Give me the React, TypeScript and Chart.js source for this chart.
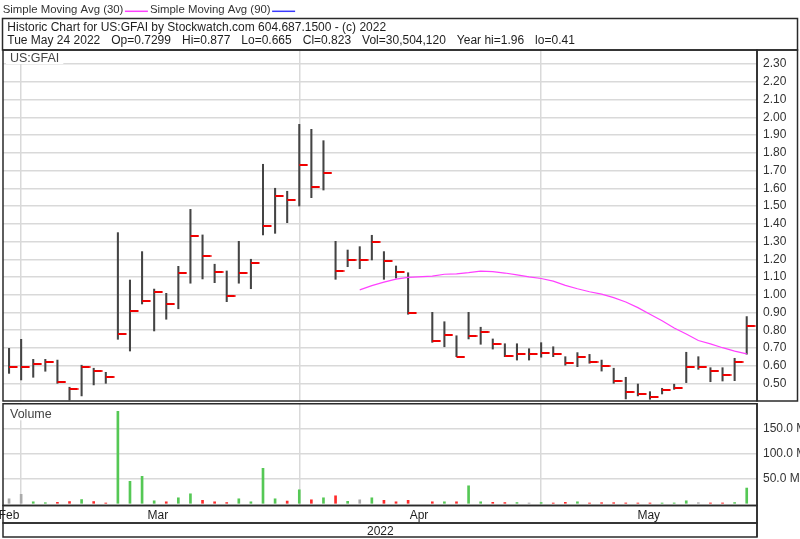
import React, { useEffect, useRef } from "react";
import { Chart, registerables } from "chart.js";

Chart.register(...registerables);

// ---------- data (one entry per weekday, Feb 28 .. May 24 2022; null = market holiday) ----------
const dates = [
  "Feb 28",
  "Mar 1", "Mar 2", "Mar 3", "Mar 4", "Mar 7", "Mar 8", "Mar 9", "Mar 10", "Mar 11",
  "Mar 14", "Mar 15", "Mar 16", "Mar 17", "Mar 18", "Mar 21", "Mar 22", "Mar 23", "Mar 24", "Mar 25",
  "Mar 28", "Mar 29", "Mar 30", "Mar 31",
  "Apr 1", "Apr 4", "Apr 5", "Apr 6", "Apr 7", "Apr 8", "Apr 11", "Apr 12", "Apr 13", "Apr 14", "Apr 15",
  "Apr 18", "Apr 19", "Apr 20", "Apr 21", "Apr 22", "Apr 25", "Apr 26", "Apr 27", "Apr 28", "Apr 29",
  "May 2", "May 3", "May 4", "May 5", "May 6", "May 9", "May 10", "May 11", "May 12", "May 13",
  "May 16", "May 17", "May 18", "May 19", "May 20", "May 23", "May 24",
];

const highs = [
  0.698, 0.749, 0.636, 0.636, 0.632, 0.479, 0.603, 0.586, 0.563, 1.35,
  1.083, 1.243, 1.032, 1.008, 1.16, 1.481, 1.337, 1.172, 1.134, 1.301,
  1.2, 1.735, 1.6, 1.583, 1.96, 1.932, 1.868, 1.301, 1.252, 1.271,
  1.335, 1.243, 1.162, 1.124, null, 0.901, 0.848, 0.769, 0.901, 0.817,
  0.751, 0.724, 0.724, 0.696, 0.73, 0.707, 0.651, 0.674, 0.664, 0.632,
  0.586, 0.535, 0.497, 0.454, 0.473, 0.496, 0.676, 0.651, 0.589, 0.589,
  0.642, 0.877,
];

const lows = [
  0.557, 0.52, 0.535, 0.569, 0.501, 0.407, 0.43, 0.492, 0.501, 0.749,
  0.683, 0.948, 0.796, 0.862, 0.921, 1.065, 1.089, 1.068, 0.961, 1.065,
  1.034, 1.337, 1.346, 1.406, 1.5, 1.547, 1.59, 1.087, 1.158, 1.147,
  1.196, 1.087, 1.094, 0.89, null, 0.732, 0.707, 0.651, 0.751, 0.721,
  0.694, 0.651, 0.632, 0.632, 0.648, 0.651, 0.603, 0.595, 0.614, 0.57,
  0.501, 0.413, 0.43, 0.411, 0.441, 0.467, 0.505, 0.58, 0.51, 0.514,
  0.516, 0.665,
];

const closes = [
  0.591, 0.591, 0.608, 0.623, 0.508, 0.467, 0.591, 0.57, 0.537, 0.779,
  0.908, 0.963, 1.017, 0.946, 1.121, 1.331, 1.218, 1.13, 0.995, 1.121,
  1.179, 1.389, 1.556, 1.536, 1.729, 1.605, 1.688, 1.136, 1.196, 1.196,
  1.297, 1.19, 1.13, 0.899, null, 0.741, 0.775, 0.651, 0.768, 0.79,
  0.721, 0.657, 0.666, 0.666, 0.672, 0.666, 0.617, 0.648, 0.623, 0.6,
  0.516, 0.452, 0.439, 0.426, 0.463, 0.476, 0.595, 0.595, 0.57, 0.546,
  0.623, 0.823,
];

// volume, millions of shares
const volumes = [
  9, 18, 3, 1.2, 2, 3.5, 7.5, 3.5, 0.6, 184,
  44, 54, 5, 3, 11, 19, 6, 3, 1.5, 9,
  3, 70, 9, 4.5, 27, 7, 11, 15, 4, 7,
  11, 6, 3, 6, null, 3, 3, 3, 35, 3,
  2, 1.5, 1.5, 0.6, 1.5, 0.6, 2, 3, 0.6, 1.2,
  1.2, 0.7, 0.6, 0.6, 0.6, 0.7, 5, 1.2, 0.7, 0.7,
  1.5, 30.5,
];

const priceTicks = [0.5, 0.6, 0.7, 0.8, 0.9, 1.0, 1.1, 1.2, 1.3, 1.4, 1.5, 1.6, 1.7, 1.8, 1.9, 2.0, 2.1, 2.2, 2.3];
const volumeTicks = [50, 100, 150];
const gridBars = [1, 24, 44];
const monthLabels = ["Feb", "Mar", "Apr", "May"];
const monthLabelPos = [0, 12.3, 33.9, 52.9];
const yearLabel = "2022";
const yearLabelPos = 30.7;
const maPeriod = 30;
const legendLabels = ["Simple Moving Avg (30)", "Simple Moving Avg (90)"];
const legendColors = ["#ff40ff", "#3a3aff"];
const symbol = "US:GFAI";
const volumeTitle = "Volume";
const headerLine1 = "Historic Chart for US:GFAI by Stockwatch.com 604.687.1500 - (c) 2022";
const headerFields = [
  "Tue May 24 2022", "Op=0.7299", "Hi=0.877", "Lo=0.665", "Cl=0.823",
  "Vol=30,504,120", "Year hi=1.96", "lo=0.41",
];

// ---------- styling ----------
const FONT = 'Arial, "Liberation Sans", sans-serif';
const FRAME = "#2a2a2a";
const GRID = "#d9d9d9";
const X_MIN = -0.5;
const X_MAX = 61.85;
const FIELD_GAP = 11;

function movingAverage(values: (number | null)[], n: number) {
  const out: { x: number; y: number }[] = [];
  const buf: number[] = [];
  values.forEach((v, i) => {
    if (v == null) return;
    buf.push(v);
    if (buf.length > n) buf.shift();
    if (buf.length === n) out.push({ x: i, y: buf.reduce((a, b) => a + b, 0) / n });
  });
  return out;
}

function makeCloseTick() {
  const c = document.createElement("canvas");
  c.width = 18;
  c.height = 2;
  const g = c.getContext("2d")!;
  g.fillStyle = "#f00000";
  g.fillRect(9, 0, 8.5, 2);
  return c;
}

function panelLabel(ctx: CanvasRenderingContext2D, text: string, x: number, baseline: number, boxTop: number) {
  ctx.font = `12.5px ${FONT}`;
  const w = ctx.measureText(text).width;
  ctx.fillStyle = "#fff";
  ctx.fillRect(x - 4, boxTop, w + 8, baseline + 2 - boxTop);
  ctx.fillStyle = "#444";
  ctx.fillText(text, x, baseline);
}

export default function App() {
  const priceRef = useRef<HTMLCanvasElement>(null);
  const volRef = useRef<HTMLCanvasElement>(null);

  useEffect(() => {
    const idx = dates.map((_, i) => i);
    const rangeData = idx
      .filter((i) => highs[i] != null)
      .map((i) => ({ x: i, y: [lows[i] as number, highs[i] as number] }));
    const closeData = idx.filter((i) => closes[i] != null).map((i) => ({ x: i, y: closes[i] as number }));
    const maData = movingAverage(closes, maPeriod);

    const volColor: string[] = [];
    let prev: number | null = null;
    const volData: { x: number; y: number }[] = [];
    idx.forEach((i) => {
      const c = closes[i];
      if (c == null || volumes[i] == null) return;
      let col = "#aaaaaa";
      if (prev != null && c > prev) col = "#55c855";
      else if (prev != null && c < prev) col = "#ff2a2a";
      prev = c;
      volColor.push(col);
      volData.push({ x: i, y: volumes[i] as number });
    });

    const tickImg = makeCloseTick();

    const decorPrice = {
      id: "decorPrice",
      afterDraw(chart: any) {
        const ctx = chart.ctx as CanvasRenderingContext2D;
        ctx.save();
        ctx.textAlign = "left";
        ctx.textBaseline = "alphabetic";
        // legend line
        ctx.font = `11.4px ${FONT}`;
        let x = 2.7;
        legendLabels.forEach((lab, i) => {
          ctx.fillStyle = "#333";
          ctx.fillText(lab, x, 13.3);
          x += ctx.measureText(lab).width + 1.5;
          ctx.strokeStyle = legendColors[i];
          ctx.lineWidth = 1.5;
          ctx.beginPath();
          ctx.moveTo(x, 11.3);
          ctx.lineTo(x + 23, 11.3);
          ctx.stroke();
          x += 25;
        });
        // header box
        ctx.strokeStyle = FRAME;
        ctx.lineWidth = 1.5;
        ctx.strokeRect(2.5, 18.5, 795, 31.5);
        ctx.font = `12px ${FONT}`;
        ctx.fillStyle = "#1e1e1e";
        ctx.fillText(headerLine1, 7.3, 30.7);
        let hx = 7.3;
        headerFields.forEach((f) => {
          ctx.fillText(f, hx, 44.3);
          hx += ctx.measureText(f).width + FIELD_GAP;
        });
        // symbol label
        panelLabel(ctx, symbol, 10, 62, 51);
        // price panel frame + axis column
        const a = chart.chartArea;
        ctx.strokeStyle = FRAME;
        ctx.lineWidth = 1.5;
        ctx.strokeRect(a.left, a.top, a.right - a.left, a.bottom - a.top);
        ctx.strokeRect(a.right, a.top, 797.5 - a.right, a.bottom - a.top);
        ctx.restore();
      },
    };

    const decorVol = {
      id: "decorVol",
      afterDraw(chart: any) {
        const ctx = chart.ctx as CanvasRenderingContext2D;
        const a = chart.chartArea;
        const xs = chart.scales.x;
        ctx.save();
        ctx.textBaseline = "alphabetic";
        ctx.textAlign = "left";
        panelLabel(ctx, volumeTitle, 10, 15.3, 1.5);
        ctx.strokeStyle = FRAME;
        ctx.lineWidth = 1.5;
        ctx.strokeRect(a.left, 0.75, a.right - a.left, a.bottom + 0.5 - 0.75);
        ctx.strokeRect(a.left, a.bottom + 0.5, a.right - a.left, 120 - (a.bottom + 0.5));
        ctx.strokeRect(a.left, 120, a.right - a.left, 14);
        ctx.beginPath();
        ctx.moveTo(a.right, 0);
        ctx.lineTo(a.right, 134);
        ctx.stroke();
        ctx.font = `12px ${FONT}`;
        ctx.fillStyle = "#1e1e1e";
        ctx.textAlign = "center";
        monthLabels.forEach((m, i) => ctx.fillText(m, xs.getPixelForValue(monthLabelPos[i]), 116.3));
        ctx.fillText(yearLabel, xs.getPixelForValue(yearLabelPos), 132);
        ctx.restore();
      },
    };

    const xScale = (h: number) => ({
      type: "linear" as const,
      min: X_MIN,
      max: X_MAX,
      offset: false,
      bounds: "data" as const,
      afterBuildTicks: (s: any) => {
        s.ticks = gridBars.map((v) => ({ value: v }));
      },
      afterFit: (s: any) => {
        s.height = h;
        s.paddingLeft = 0;
        s.paddingRight = 0;
      },
      ticks: { display: false },
      grid: { color: GRID, lineWidth: 1.5, drawTicks: false, offset: false },
      border: { display: false },
    });

    const yFit = (s: any) => {
      s.width = 43;
      s.paddingTop = 0;
      s.paddingBottom = 0;
    };

    const priceChart = new Chart(priceRef.current!, {
      type: "bar",
      data: {
        datasets: [
          {
            type: "bar",
            data: rangeData as any,
            backgroundColor: "#444",
            barThickness: 1.4,
            order: 2,
          },
          {
            type: "line",
            data: closeData,
            showLine: false,
            pointStyle: tickImg as any,
            pointRadius: 4,
            order: 1,
          },
          {
            type: "line",
            data: maData,
            borderColor: legendColors[0],
            borderWidth: 1.2,
            pointRadius: 0,
            tension: 0,
            order: 0,
          },
        ] as any,
      },
      options: {
        animation: false,
        responsive: false,
        maintainAspectRatio: false,
        layout: { autoPadding: false, padding: { left: 3, top: 50, right: 0, bottom: 0 } },
        plugins: { legend: { display: false }, tooltip: { enabled: false } },
        scales: {
          x: xScale(2) as any,
          y: {
            position: "right",
            min: 0.4014,
            max: 2.3789,
            afterBuildTicks: (s: any) => {
              s.ticks = priceTicks.map((v) => ({ value: v }));
            },
            afterFit: yFit,
            ticks: {
              callback: (v: any) => Number(v).toFixed(2),
              font: { family: FONT, size: 12 },
              color: "#333",
              padding: 6,
            },
            grid: { color: GRID, lineWidth: 1.5, drawTicks: false },
            border: { display: false },
          },
        },
      },
      plugins: [decorPrice],
    });

    const volChart = new Chart(volRef.current!, {
      type: "bar",
      data: {
        datasets: [
          {
            data: volData as any,
            backgroundColor: (c: any) => volColor[c.dataIndex] || "#aaa",
            barThickness: 2,
          },
        ],
      },
      options: {
        animation: false,
        responsive: false,
        maintainAspectRatio: false,
        layout: { autoPadding: false, padding: { left: 3, top: 1, right: 0, bottom: 0 } },
        plugins: { legend: { display: false }, tooltip: { enabled: false } },
        scales: {
          x: xScale(34) as any,
          y: {
            position: "right",
            min: -3.4,
            max: 198.6,
            afterBuildTicks: (s: any) => {
              s.ticks = volumeTicks.map((v) => ({ value: v }));
            },
            afterFit: yFit,
            ticks: {
              callback: (v: any) => Number(v).toFixed(1) + " M",
              font: { family: FONT, size: 12 },
              color: "#333",
              padding: 6,
            },
            grid: { color: GRID, lineWidth: 1.5, drawTicks: false },
            border: { display: false },
          },
        },
      },
      plugins: [decorVol],
    });

    return () => {
      priceChart.destroy();
      volChart.destroy();
    };
  }, []);

  return (
    <div
      style={{
        position: "fixed",
        left: 0,
        top: 0,
        width: 800,
        height: 539,
        background: "#fff",
        overflow: "hidden",
      }}
    >
      <canvas
        ref={priceRef}
        width={800}
        height={403}
        style={{ position: "absolute", left: 0, top: 0, width: 800, height: 403 }}
      />
      <canvas
        ref={volRef}
        width={800}
        height={136}
        style={{ position: "absolute", left: 0, top: 403, width: 800, height: 136 }}
      />
    </div>
  );
}
